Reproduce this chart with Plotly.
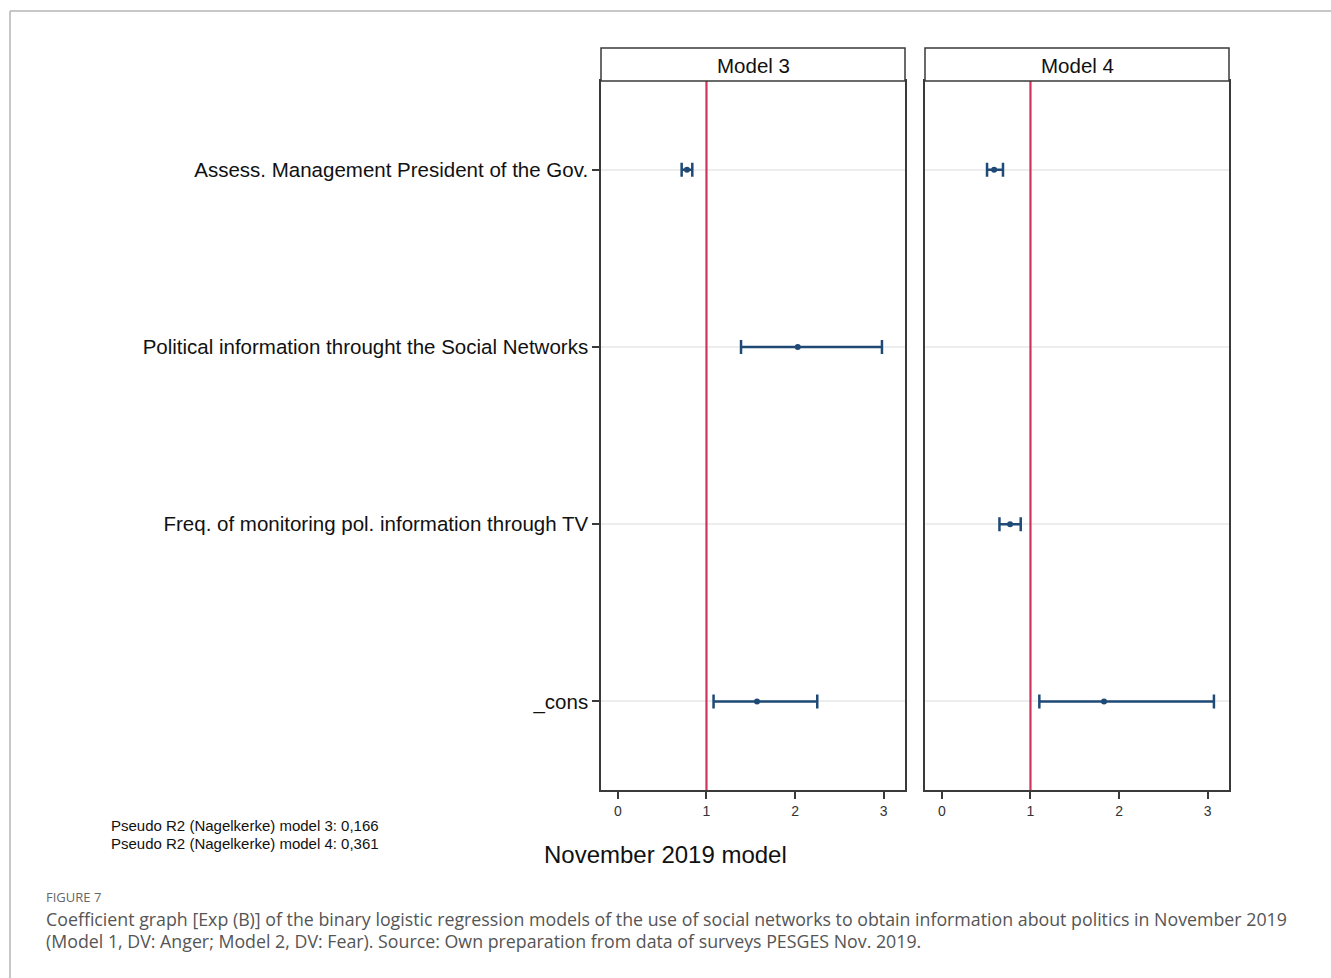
import plotly.graph_objects as go

W, H = 1331, 978

categories = [
    "Assess. Management President of the Gov.",
    "Political information throught the Social Networks",
    "Freq. of monitoring pol. information through TV",
    "_cons",
]
models = ["Model 3", "Model 4"]

# Exp(B) estimates with confidence intervals (None = not in model)
m3_est = [0.78, 2.03, None, 1.57]
m3_lo = [0.72, 1.39, None, 1.08]
m3_hi = [0.84, 2.98, None, 2.25]

m4_est = [0.59, None, 0.77, 1.83]
m4_lo = [0.51, None, 0.65, 1.10]
m4_hi = [0.69, None, 0.89, 3.07]

x_ticks = [0, 1, 2, 3]
ref_value = 1

r2_lines = [
    "Pseudo R2 (Nagelkerke) model 3: 0,166",
    "Pseudo R2 (Nagelkerke) model 4: 0,361",
]
x_title = "November 2019 model"
fig_label = "FIGURE 7"
caption = [
    "Coefficient graph [Exp (B)] of the binary logistic regression models of the use of social networks to obtain information about politics in November 2019",
    "(Model 1, DV: Anger; Model 2, DV: Fear). Source: Own preparation from data of surveys PESGES Nov. 2019.",
]

NAVY = "#1f4a76"
RED = "#d0335f"
AXIS = "#3a3a3a"
FONT = "Liberation Sans, Arial, sans-serif"
CAPFONT = "Open Sans, sans-serif"


def px(x):
    return x / W


def py(y):
    return 1 - y / H


dom_x = [(px(601), px(905)), (px(925), px(1229))]
dom_y = (py(790), py(81))

fig = go.Figure()

for i, (est, lo, hi) in enumerate([(m3_est, m3_lo, m3_hi), (m4_est, m4_lo, m4_hi)]):
    xs, ys, plus, minus = [], [], [], []
    for c, e, l, h in zip(categories, est, lo, hi):
        if e is None:
            continue
        xs.append(e)
        ys.append(c)
        plus.append(h - e)
        minus.append(e - l)
    ax = "" if i == 0 else "2"
    fig.add_trace(go.Scatter(
        x=xs, y=ys, mode="markers",
        marker=dict(color=NAVY, size=6),
        error_x=dict(type="data", array=plus, arrayminus=minus,
                     color=NAVY, thickness=2.5, width=7),
        xaxis="x" + ax, yaxis="y" + ax, showlegend=False,
    ))

common_x = dict(
    range=[-0.19, 3.24], tickvals=x_ticks, ticks="outside", ticklen=7,
    tickwidth=1.5, tickcolor=AXIS, showline=True, linecolor=AXIS, linewidth=1.5,
    mirror=True, showgrid=False, zeroline=False, fixedrange=True,
    tickfont=dict(family=FONT, size=14, color="#333"), automargin=False,
)
common_y = dict(
    type="category", categoryarray=categories, range=[3.5, -0.5],
    showline=True, linecolor=AXIS, linewidth=1.5, mirror=True,
    showgrid=True, gridcolor="#ededed", gridwidth=1.5, zeroline=False,
    automargin=False, fixedrange=True,
)

fig.update_layout(
    xaxis=dict(domain=list(dom_x[0]), anchor="y", **common_x),
    xaxis2=dict(domain=list(dom_x[1]), anchor="y2", **common_x),
    yaxis=dict(domain=list(dom_y), anchor="x", ticks="outside", ticklen=7,
               tickwidth=1.5, tickcolor=AXIS,
               tickfont=dict(family=FONT, size=20.5, color="#111"), **common_y),
    yaxis2=dict(domain=list(dom_y), anchor="x2", showticklabels=False,
                ticks="", **common_y),
)

shapes = []
annotations = []
for i, m in enumerate(models):
    ax = "" if i == 0 else "2"
    shapes.append(dict(type="line", xref="x" + ax, yref="y" + ax + " domain",
                       x0=ref_value, x1=ref_value, y0=0, y1=1,
                       line=dict(color=RED, width=2.2), layer="above"))
    shapes.append(dict(type="rect", xref="paper", yref="paper",
                       x0=dom_x[i][0], x1=dom_x[i][1], y0=py(81), y1=py(48),
                       line=dict(color=AXIS, width=1.5), fillcolor="white"))
    annotations.append(dict(text=m, xref="paper", yref="paper",
                            x=(dom_x[i][0] + dom_x[i][1]) / 2, y=py(65),
                            xanchor="center", yanchor="middle", showarrow=False,
                            font=dict(family=FONT, size=20.5, color="#111")))

# outer figure frame
shapes.append(dict(type="line", xref="paper", yref="paper", x0=px(10), x1=1.0,
                   y0=py(11), y1=py(11), line=dict(color="#b5b5b5", width=1.5)))
shapes.append(dict(type="line", xref="paper", yref="paper", x0=px(10), x1=px(10),
                   y0=py(11), y1=0.0, line=dict(color="#b5b5b5", width=1.5)))

for k, t in enumerate(r2_lines):
    annotations.append(dict(text=t, xref="paper", yref="paper", x=px(109),
                            y=py(825 + 18 * k), xanchor="left", yanchor="middle",
                            showarrow=False,
                            font=dict(family=FONT, size=15, color="#111")))

annotations.append(dict(text=x_title, xref="paper", yref="paper", x=px(665),
                        y=py(854), xanchor="center", yanchor="middle",
                        showarrow=False, font=dict(family=FONT, size=24, color="#111")))

annotations.append(dict(text=fig_label, xref="paper", yref="paper", x=px(44),
                        y=py(897), xanchor="left", yanchor="middle",
                        showarrow=False,
                        font=dict(family=CAPFONT, size=13, color="#666")))
for k, t in enumerate(caption):
    annotations.append(dict(text=t, xref="paper", yref="paper", x=px(44),
                            y=py(919 + 22 * k), xanchor="left", yanchor="middle",
                            showarrow=False,
                            font=dict(family=CAPFONT, size=17.8, color="#555")))

fig.update_layout(
    width=W, height=H, margin=dict(l=0, r=0, t=0, b=0, pad=0),
    paper_bgcolor="white", plot_bgcolor="white",
    shapes=shapes, annotations=annotations, template="none",
)

fig.write_html("out.html", config={"displayModeBar": False},
               post_script="document.body.style.margin='0';document.body.style.overflow='hidden';")
